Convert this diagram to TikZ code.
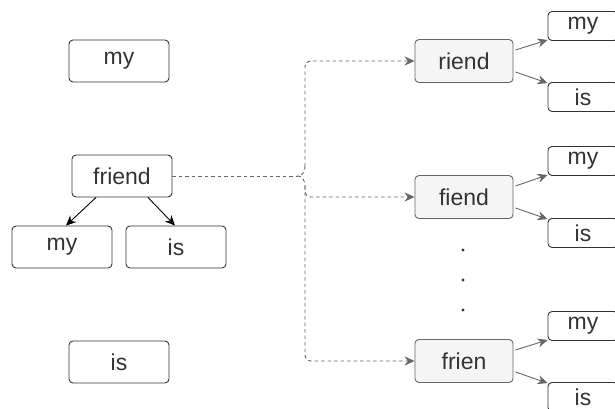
\documentclass[tikz,border=0pt]{standalone}
\usepackage{fontspec}
\setmainfont{Liberation Sans}
\usepackage{xcolor}
\usetikzlibrary{arrows.meta,calc}

\definecolor{boxline}{HTML}{333333}
\definecolor{greyline}{HTML}{666666}
\definecolor{greyfill}{HTML}{F5F5F5}

\tikzset{
  word/.style = {draw=boxline, rounded corners=4pt, line width=0.9pt,
    minimum width=100pt, minimum height=42pt, inner sep=0pt,
    text=boxline, font=\fontsize{23}{27}\selectfont},
  cut/.style = {word, fill=greyfill, draw=greyline, minimum width=98pt, minimum height=43pt},
  leaf/.style = {word, minimum width=70pt, minimum height=29pt},
  link/.style = {line width=0.9pt, -{Stealth[length=10pt,width=9pt]}},
  glink/.style = {link, draw=greyline, color=greyline},
  dash line/.style = {draw=greyline, line width=0.9pt, dash pattern=on 3.5pt off 3pt},
}

\begin{document}
\begin{tikzpicture}[x=1pt, y=-1pt]
  \clip (0,0) rectangle (615,409);
  \useasboundingbox (0,0) rectangle (615,409);

  % left side
  \node[word] (top my) at (119,61) {my};
  \node[word] (friend) at (122,176) {friend};
  \node[word] (left my) at (62,247) {my};
  \node[word] (left is) at (176,247) {is};
  \node[word] (bottom is) at (119,362) {is};

  \draw[link] ($ (friend.south) + (-26,0) $) -- ($ (left my.north) + (4,0) $);
  \draw[link] ($ (friend.south) + (26,0) $) -- ($ (left is.north) + (-1,0) $);

  % right side
  \node[cut] (riend) at (464,61) {riend};
  \node[cut] (fiend) at (464,197) {fiend};
  \node[cut] (frien) at (464,361) {frien};

  \node[leaf] (my a) at (583,26) {my};
  \node[leaf] (is a) at (583,97) {is};
  \node[leaf] (my b) at (583,161) {my};
  \node[leaf] (is b) at (583,233) {is};
  \node[leaf] (my c) at (583,326) {my};
  \node[leaf] (is c) at (583,397) {is};

  \foreach \w/\m/\i in {riend/my a/is a, fiend/my b/is b, frien/my c/is c} {
    \draw[glink] ($ (\w.east) + (2,-11) $) -- ($ (\m.south west) + (0,-1) $);
    \draw[glink] ($ (\w.east) + (2,11) $) -- ($ (\i.north west) + (0,1) $);
  }

  \foreach \y in {250,280,310}
    \fill[boxline] (463,\y) circle (1.7pt);

  % brace
  \coordinate (tip) at (298,176);
  \coordinate (up) at (305,166);
  \coordinate (down) at (305,186);

  \draw[dash line] (friend.east) -- (tip);
  \draw[dash line] (up) to[out=-90,in=0] (tip) to[out=0,in=90] (down);
  \draw[dash line, glink, rounded corners=6pt] (up) |- (riend.west);
  \draw[dash line, glink, rounded corners=6pt] (down) |- (fiend.west);
  \draw[dash line, glink, rounded corners=6pt] (down) |- (frien.west);
\end{tikzpicture}
\end{document}
